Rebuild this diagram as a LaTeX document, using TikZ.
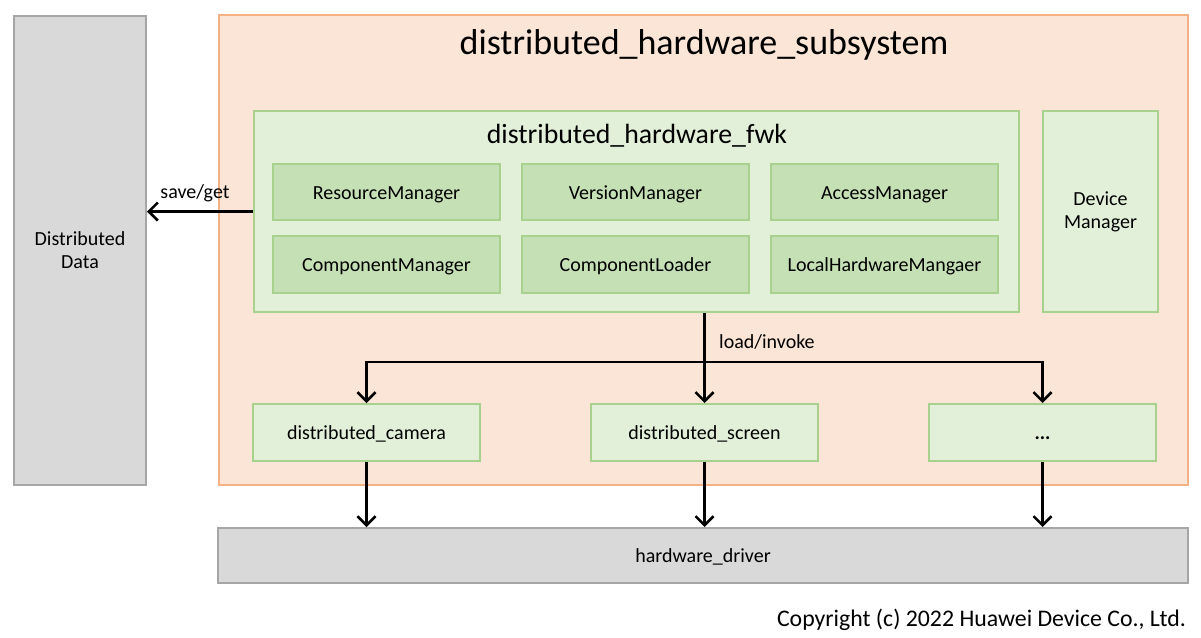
\documentclass[tikz,border=0pt]{standalone}
\usepackage{fontspec}
\setmainfont{Carlito}
\usetikzlibrary{arrows.meta}
\definecolor{peach}{HTML}{FBE5D6}
\definecolor{peachline}{HTML}{F4B183}
\definecolor{leaf}{HTML}{E2F0D9}
\definecolor{leafdark}{HTML}{C5E0B4}
\definecolor{leafline}{HTML}{A9D18E}
\definecolor{greybox}{HTML}{D9D9D9}
\definecolor{greyline}{HTML}{A6A6A6}
\begin{document}
\begin{tikzpicture}[x=1pt,y=-1pt,
  every node/.style={font=\fontsize{20}{23}\selectfont},
  box/.style={draw, line width=2pt, inner sep=0pt, align=center},
  oneline/.style={text height=16pt, text depth=2pt},
  greyblock/.style={box, fill=greybox, draw=greyline},
  outer/.style={box, fill=peach, draw=peachline},
  pale/.style={box, fill=leaf, draw=leafline},
  module/.style={box, oneline, fill=leafdark, draw=leafline, minimum width=227pt, minimum height=56pt},
  plugin/.style={box, oneline, fill=leaf, draw=leafline, minimum width=227pt, minimum height=57pt},
  arr/.style={line width=2.6pt, -{Straight Barb[length=9pt,width=18pt,line width=2.6pt]}},
  lbl/.style={inner sep=0pt}]
\useasboundingbox (0,0) rectangle (1201,637);

% side store and subsystem frame
\node[greyblock, minimum width=132pt, minimum height=469pt] (data) at (80,250.5) {Distributed\\Data};
\node[outer, minimum width=969pt, minimum height=470pt] (subsys) at (703.5,250) {};
\node[lbl, font=\fontsize{36}{40}\selectfont] (title) at (704,45) {distributed\_hardware\_subsystem};

% framework block with its managers
\node[pale, minimum width=765pt, minimum height=201pt] (fwk) at (636.5,211.5) {};
\node[lbl, font=\fontsize{27.8}{32}\selectfont] (fwktitle) at (637,136) {distributed\_hardware\_fwk};
\node[module] (rm)  at (386.5,192) {ResourceManager};
\node[module] (vm)  at (635.5,192) {VersionManager};
\node[module] (am)  at (884.5,192) {AccessManager};
\node[module, minimum height=57pt] (cm)  at (386.5,264.5) {ComponentManager};
\node[module, minimum height=57pt] (cl)  at (635.5,264.5) {ComponentLoader};
\node[module, minimum height=57pt] (lhm) at (884.5,264.5) {LocalHardwareMangaer};
\node[pale, minimum width=115pt, minimum height=201pt] (dm) at (1100.5,211.5) {Device\\Manager};

% hardware plugins
\node[plugin] (cam)  at (366.5,432.5) {distributed\_camera};
\node[plugin] (scr)  at (704.5,432.5) {distributed\_screen};
\node[plugin] (more) at (1042.5,432.5) {\textbf{...}};

% driver layer
\node[greyblock, oneline, minimum width=970pt, minimum height=55pt] (hw) at (703,555.5) {hardware\_driver};

\node[lbl, anchor=east, font=\fontsize{23.8}{28}\selectfont] (copy) at (1186,620) {Copyright (c) 2022 Huawei Device Co., Ltd.};

% connectors
\draw[arr] (fwk.west) -- (data.east |- fwk.west);
\node[lbl] (savelbl) at (195,193) {save/get};

\coordinate (bus) at (704.5,362);
\draw[arr] (scr.north |- fwk.south) -- (scr.north);
\draw[arr] (bus) -| (cam.north);
\draw[arr] (bus) -| (more.north);
\node[lbl, anchor=west] (loadlbl) at (719,342) {load/invoke};

\draw[arr] (cam.south) -- (cam.south |- hw.north);
\draw[arr] (scr.south) -- (scr.south |- hw.north);
\draw[arr] (more.south) -- (more.south |- hw.north);
\end{tikzpicture}
\end{document}
